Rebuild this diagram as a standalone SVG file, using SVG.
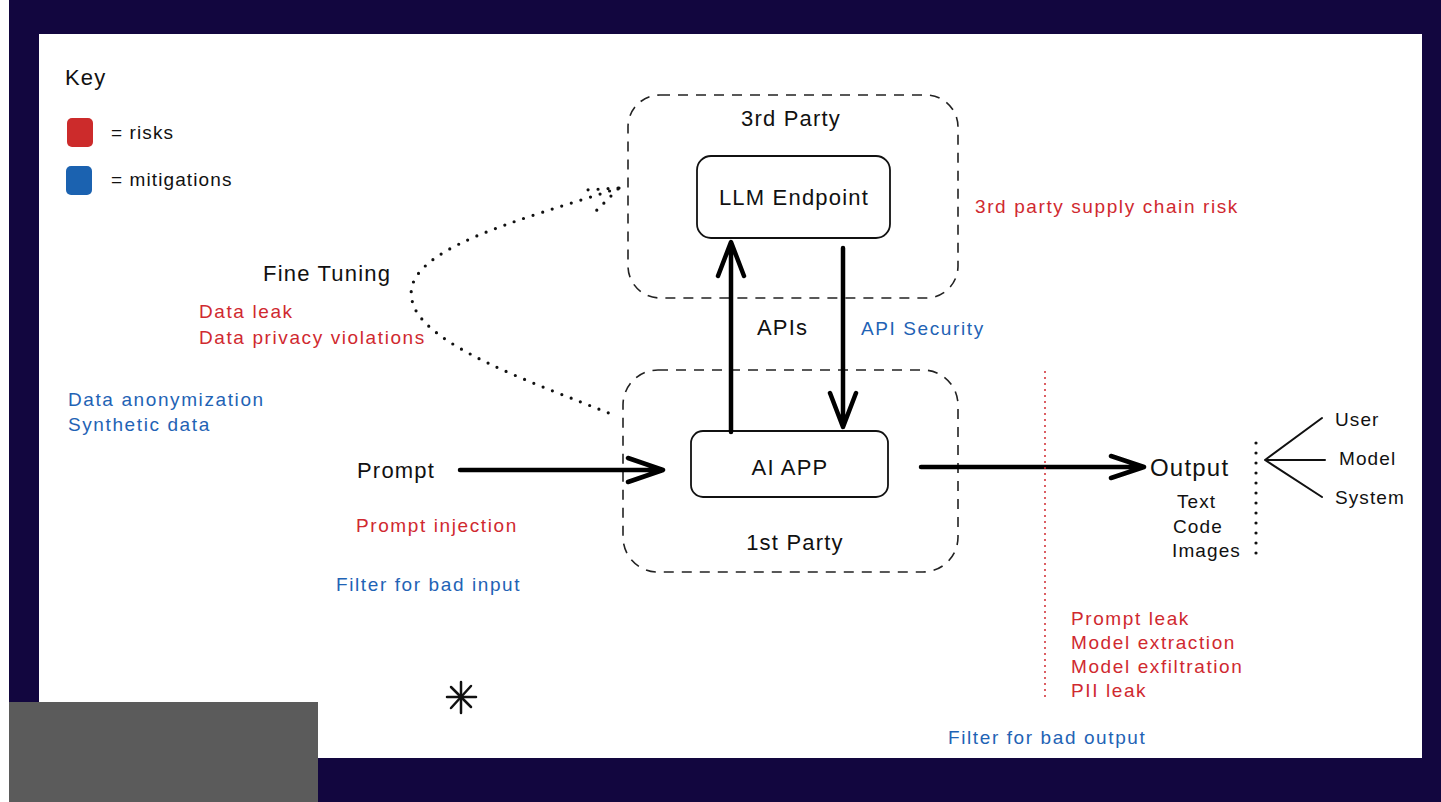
<svg xmlns="http://www.w3.org/2000/svg" width="1441" height="802" viewBox="0 0 1441 802">
<style>
.t{font-family:"Liberation Sans",Arial,sans-serif;}
.lg{font-size:22px;letter-spacing:1.2px;fill:#111;}
.md{font-size:19px;letter-spacing:1.1px;fill:#111;}
.r{font-size:19px;letter-spacing:1.6px;fill:#d0292f;}
.b{font-size:19px;letter-spacing:1.6px;fill:#1f63b5;}
.dash{fill:none;stroke:#222;stroke-width:1.6;stroke-dasharray:10 8;}
.box{fill:#fff;stroke:#111;stroke-width:1.8;}
.ar{fill:none;stroke:#000;stroke-width:4.5;stroke-linecap:round;stroke-linejoin:round;}
.dot{fill:none;stroke:#111;stroke-width:3.2;stroke-linecap:round;stroke-dasharray:0 10;}
.thin{fill:none;stroke:#111;stroke-width:2;stroke-linecap:round;}
</style>
<rect x="0" y="0" width="1441" height="802" fill="#fff"/>
<rect x="9" y="0" width="1432" height="802" fill="#12063f"/>
<rect x="39" y="34" width="1383" height="724" fill="#fff"/>
<rect x="9" y="702" width="309" height="100" fill="#5b5b5b"/>

<g id="key">
<text class="t lg" x="65" y="85">Key</text>
<rect x="67" y="118" width="26" height="29" rx="5" fill="#cc2b2b"/>
<rect x="66" y="166" width="26" height="29" rx="5" fill="#1b62b0"/>
<text class="t md" x="111" y="139">= risks</text>
<text class="t md" x="111" y="186">= mitigations</text>
</g>

<g id="third-party">
<rect class="dash" x="628" y="95" width="330" height="203" rx="32"/>
<text class="t lg" x="791" y="126" text-anchor="middle">3rd Party</text>
</g>
<g id="llm-endpoint">
<rect class="box" x="697" y="156" width="193" height="82" rx="14"/>
<text class="t lg" x="794" y="205" text-anchor="middle">LLM Endpoint</text>
</g>
<g id="first-party">
<rect class="dash" x="623" y="370" width="335" height="202" rx="35"/>
<text class="t lg" x="795" y="550" text-anchor="middle">1st Party</text>
</g>
<g id="ai-app">
<rect class="box" x="691" y="431" width="197" height="66" rx="12"/>
<text class="t lg" x="790" y="475" text-anchor="middle">AI APP</text>
</g>

<g id="connectors">
<path class="ar" d="M731 432 V243 M718 276 L731 242 L744 276"/>
<path class="ar" d="M843 248 V427 M830 393 L843 427 L856 393"/>
<path class="ar" d="M460 470 H662 M628 458 L663 470 L628 482"/>
<path class="ar" d="M921 467 H1143 M1111 456 L1144 467 L1111 478"/>
<path class="dot" d="M619 188 C 520 220, 400 250, 412 300 C 420 345, 540 385, 611 414"/>
<path class="dot" d="M618 188 L586 190 M618 189 L594 213"/>
<line x1="1045" y1="372" x2="1045" y2="702" stroke="#d0292f" stroke-width="2" stroke-linecap="round" stroke-dasharray="0 6"/>
<line x1="1256" y1="443" x2="1256" y2="563" class="dot" stroke-dasharray="0 9"/>
<path class="thin" d="M1265 460 L1322 418 M1265 460 H1325 M1265 460 L1322 497"/>
</g>

<g id="labels">
<text class="t r" x="975" y="213">3rd party supply chain risk</text>
<text class="t lg" x="757" y="335">APIs</text>
<text class="t b" x="861" y="335">API Security</text>
<text class="t lg" x="263" y="281">Fine Tuning</text>
<text class="t r" x="199" y="318">Data leak</text>
<text class="t r" x="199" y="344">Data privacy violations</text>
<text class="t b" x="68" y="406">Data anonymization</text>
<text class="t b" x="68" y="431">Synthetic data</text>
<text class="t lg" x="357" y="478">Prompt</text>
<text class="t r" x="356" y="532">Prompt injection</text>
<text class="t b" x="336" y="591">Filter for bad input</text>
</g>

<g id="output">
<text class="t lg" x="1150" y="476" style="font-size:24px">Output</text>
<text class="t md" x="1177" y="508">Text</text>
<text class="t md" x="1173" y="533">Code</text>
<text class="t md" x="1172" y="557">Images</text>
<text class="t md" x="1335" y="426">User</text>
<text class="t md" x="1339" y="465">Model</text>
<text class="t md" x="1335" y="504">System</text>
</g>

<g id="output-risks">
<text class="t r" x="1071" y="625">Prompt leak</text>
<text class="t r" x="1071" y="649">Model extraction</text>
<text class="t r" x="1071" y="673">Model exfiltration</text>
<text class="t r" x="1071" y="697">PII leak</text>
<text class="t b" x="948" y="744">Filter for bad output</text>
</g>

<g id="star" stroke="#111" stroke-width="2.5" stroke-linecap="round">
<line x1="461" y1="682" x2="461" y2="713"/>
<line x1="447" y1="697" x2="476" y2="697"/>
<line x1="451" y1="687" x2="471" y2="707"/>
<line x1="471" y1="686" x2="451" y2="708"/>
</g>
</svg>
